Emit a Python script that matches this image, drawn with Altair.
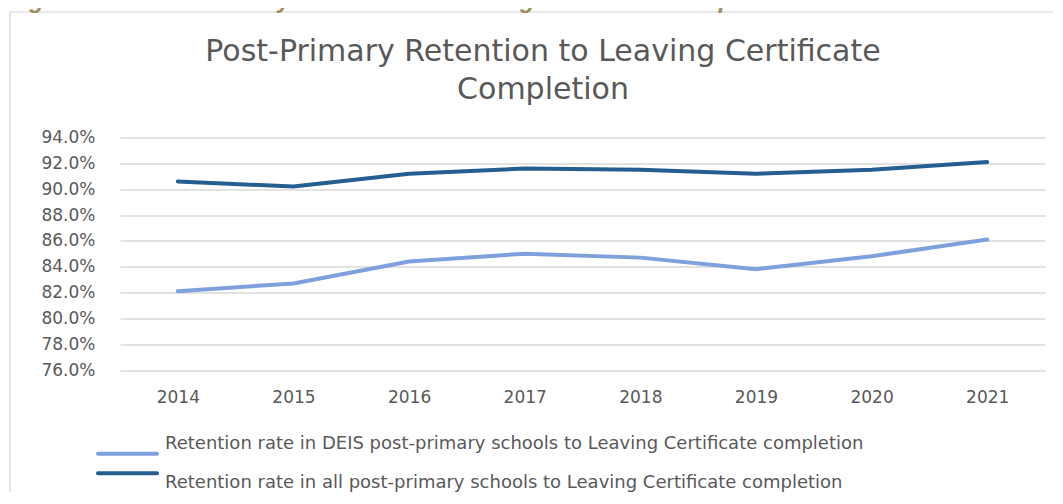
import altair as alt
import pandas as pd

# ---- data ----
years = ["2014", "2015", "2016", "2017", "2018", "2019", "2020", "2021"]
deis_rate = [82.1, 82.7, 84.4, 85.0, 84.7, 83.8, 84.8, 86.1]
all_rate = [90.6, 90.2, 91.2, 91.6, 91.5, 91.2, 91.5, 92.1]
series_names = [
    "Retention rate in DEIS post-primary schools to Leaving Certificate completion",
    "Retention rate in all post-primary schools to Leaving Certificate completion",
]
series_colors = ["#7EA0DC", "#255E91"]
y_ticks = [76, 78, 80, 82, 84, 86, 88, 90, 92, 94]
title_line1 = "Post-Primary Retention to Leaving Certificate"
title_line2 = "Completion"
figure_heading = "Figure 40 \u2013 Post-Primary Retention to Leaving Certificate Completion"

FONT = "DejaVu Sans"
GREY = "#595959"

rows = []
for i, y in enumerate(years):
    rows.append({"year": y, "rate": deis_rate[i], "series": series_names[0]})
    rows.append({"year": y, "rate": all_rate[i], "series": series_names[1]})
df = pd.DataFrame(rows)
legend_df = pd.DataFrame({"series": series_names})
one = pd.DataFrame({"k": [0]})

color = alt.Color("series:N", scale=alt.Scale(domain=series_names, range=series_colors), legend=None)

lines = alt.Chart(df).mark_line(strokeWidth=4, strokeCap="round", strokeJoin="round").encode(
    x=alt.X("year:O", sort=years, scale=alt.Scale(padding=0.5),
            axis=alt.Axis(title=None, labelAngle=0, domain=False, ticks=False, grid=False,
                          labelFontSize=17, labelFont=FONT, labelColor=GREY, labelPadding=19)),
    y=alt.Y("rate:Q", scale=alt.Scale(domain=[76, 94], nice=False, zero=False),
            axis=alt.Axis(title=None, values=y_ticks, domain=False, ticks=False,
                          labelExpr="format(datum.value, '.1f') + '%'",
                          gridColor="#d9d9d9", gridWidth=1.3,
                          labelFontSize=17, labelFont=FONT, labelColor=GREY, labelPadding=25)),
    color=color,
)

legend_y = alt.Y("series:N", sort=series_names, axis=None,
                 scale=alt.Scale(domain=series_names, range=[306.5, 345.5], padding=0))

legend_rules = alt.Chart(legend_df).mark_rule(strokeWidth=4, strokeCap="round").encode(
    y=legend_y, x=alt.value(-22), x2=alt.value(37), color=color
)
legend_text = alt.Chart(legend_df).mark_text(
    align="left", baseline="middle", fontSize=18, font=FONT, color=GREY
).encode(y=legend_y, x=alt.value(45), text="series:N")

box = alt.Chart(one).mark_rect(fillOpacity=0, stroke="#d4d4d4", strokeWidth=1.2).encode(
    x=alt.value(-110), x2=alt.value(1200), y=alt.value(-125.5), y2=alt.value(600)
)
heading = alt.Chart(one).mark_text(
    align="left", baseline="alphabetic", fontSize=24, font="Liberation Sans",
    fontWeight="bold", fontStyle="italic", color="#A08C5C"
).encode(x=alt.value(-112), y=alt.value(-129.5), text=alt.value(figure_heading))

title1 = alt.Chart(one).mark_text(
    align="center", baseline="alphabetic", fontSize=30, font=FONT, color=GREY
).encode(x=alt.value(423), y=alt.value(-77), text=alt.value(title_line1))
title2 = alt.Chart(one).mark_text(
    align="center", baseline="alphabetic", fontSize=30, font=FONT, color=GREY
).encode(x=alt.value(423), y=alt.value(-39), text=alt.value(title_line2))

chart = alt.layer(box, heading, title1, title2, lines, legend_rules, legend_text).resolve_scale(
    y="independent"
).properties(
    width=925,
    height=232.5,
    autosize=alt.AutoSizeParams(type="none"),
    padding={"left": 112, "top": 129.5, "right": 8, "bottom": 122},
).configure_view(stroke=None)

chart.save("out.html", embed_options={"renderer": "svg", "actions": False})
